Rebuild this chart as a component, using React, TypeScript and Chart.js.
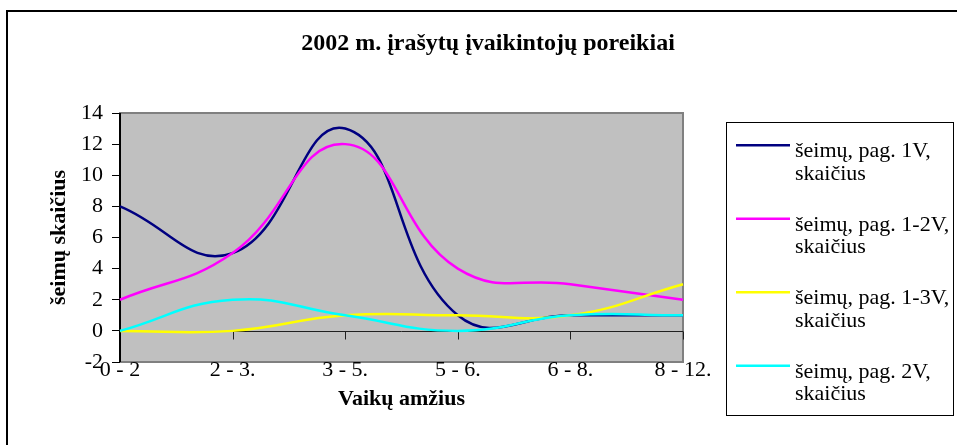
import React, { useEffect, useRef } from "react";
import { Chart, registerables } from "chart.js";

Chart.register(...registerables);

const chartTitle = "2002 m. įrašytų įvaikintojų poreikiai";
const xAxisTitle = "Vaikų amžius";
const yAxisTitle = "šeimų skaičius";
const ageGroups = ["0 - 2", "2 - 3.", "3 - 5.", "5 - 6.", "6 - 8.", "8 - 12."];
const seriesNames = [
  "šeimų, pag. 1V, skaičius",
  "šeimų, pag. 1-2V, skaičius",
  "šeimų, pag. 1-3V, skaičius",
  "šeimų, pag. 2V, skaičius",
];
const families1V = [8, 5, 13, 1, 1, 1];
const families12V = [2, 5, 12, 4, 3, 2];
const families13V = [0, 0, 1, 1, 1, 3];
const families2V = [0, 2, 1, 0, 1, 1];
const seriesColors = ["#000080", "#FF00FF", "#FFFF00", "#00FFFF"];
const yMin = -2;
const yMax = 14;
const yStep = 2;

const SERIF = "'Liberation Serif', 'Times New Roman', serif";

const excelDecor = {
  id: "excelDecor",
  beforeDraw(chart: any) {
    const { ctx, chartArea: a } = chart;
    ctx.save();
    ctx.fillStyle = "#ffffff";
    ctx.fillRect(0, 0, chart.width, chart.height);
    // outer frame
    ctx.strokeStyle = "#000000";
    ctx.lineWidth = 2;
    ctx.beginPath();
    ctx.moveTo(7, chart.height);
    ctx.lineTo(7, 11);
    ctx.lineTo(chart.width, 11);
    ctx.stroke();
    // plot background and frame
    ctx.fillStyle = "#C0C0C0";
    ctx.fillRect(a.left, a.top, a.right - a.left, a.bottom - a.top);
    ctx.strokeStyle = "#808080";
    ctx.lineWidth = 2;
    ctx.strokeRect(a.left, a.top, a.right - a.left, a.bottom - a.top);
    // title
    ctx.fillStyle = "#000000";
    ctx.font = `bold 24px ${SERIF}`;
    ctx.textAlign = "center";
    ctx.textBaseline = "alphabetic";
    ctx.fillText(chartTitle, 488, 50);
    // legend
    ctx.strokeStyle = "#000000";
    ctx.lineWidth = 1;
    ctx.strokeRect(726.5, 122.5, 227, 293);
    ctx.font = `22px ${SERIF}`;
    ctx.textAlign = "left";
    chart.data.datasets.forEach((ds: any, i: number) => {
      const base = 157.3 + i * 73.5;
      ctx.strokeStyle = ds.borderColor;
      ctx.lineWidth = 2.5;
      ctx.beginPath();
      ctx.moveTo(736, base - 12);
      ctx.lineTo(790, base - 12);
      ctx.stroke();
      const label: string = ds.label;
      const cut = label.lastIndexOf(" ");
      ctx.fillStyle = "#000000";
      ctx.fillText(label.slice(0, cut), 795, base);
      ctx.fillText(label.slice(cut + 1), 795, base + 22.5);
    });
    ctx.restore();
  },
  beforeDatasetsDraw(chart: any) {
    const { ctx, chartArea: a, scales } = chart;
    const x = scales.x;
    const y = scales.y;
    ctx.save();
    const y0 = Math.round(y.getPixelForValue(0)) + 0.5;
    ctx.strokeStyle = "#202020";
    ctx.lineWidth = 1;
    ctx.beginPath();
    ctx.moveTo(a.left, y0);
    ctx.lineTo(a.right, y0);
    ctx.stroke();
    chart.data.labels.forEach((_: any, i: number) => {
      const px = Math.round(x.getPixelForValue(i)) + 0.5;
      ctx.beginPath();
      ctx.moveTo(px, y0);
      ctx.lineTo(px, y0 + 8);
      ctx.stroke();
    });
    ctx.strokeStyle = "#000000";
    ctx.lineWidth = 2;
    ctx.beginPath();
    ctx.moveTo(a.left, a.top);
    ctx.lineTo(a.left, a.bottom);
    ctx.stroke();
    ctx.restore();
  },
};

export default function App() {
  const ref = useRef<HTMLCanvasElement>(null);
  useEffect(() => {
    const values = [families1V, families12V, families13V, families2V];
    const chart = new Chart(ref.current as HTMLCanvasElement, {
      type: "line",
      data: {
        labels: ageGroups,
        datasets: values.map((v, i) => ({
          label: seriesNames[i],
          data: v,
          borderColor: seriesColors[i],
          backgroundColor: seriesColors[i],
          borderWidth: 2.5,
          pointRadius: 0,
          tension: 0.45,
          fill: false,
          order: values.length - i,
        })),
      },
      options: {
        responsive: false,
        animation: false,
        devicePixelRatio: 1,
        layout: { padding: { left: 42, right: 274, top: 113, bottom: 28 } },
        plugins: {
          legend: { display: false },
          title: { display: false },
          tooltip: { enabled: false },
        },
        scales: {
          x: {
            type: "category",
            offset: false,
            grid: { display: false },
            border: { display: false },
            ticks: {
              color: "#000",
              autoSkip: false,
              maxRotation: 0,
              padding: -13,
              font: { family: SERIF, size: 22 },
            },
            title: {
              display: true,
              text: xAxisTitle,
              color: "#000",
              font: { family: SERIF, size: 22, weight: "bold" },
              padding: { top: 4, bottom: 4 },
            },
            afterFit(scale: any) {
              scale.height = 445 - 28 - 362;
            },
          },
          y: {
            min: yMin,
            max: yMax,
            ticks: {
              stepSize: yStep,
              color: "#000",
              padding: 9,
              font: { family: SERIF, size: 22 },
            },
            grid: {
              drawOnChartArea: false,
              drawTicks: true,
              tickLength: 8,
              color: "#000",
            },
            border: { display: false },
            title: {
              display: true,
              text: yAxisTitle,
              color: "#000",
              font: { family: SERIF, size: 22, weight: "bold" },
              padding: { top: 4, bottom: 4 },
            },
            afterFit(scale: any) {
              scale.width = 78;
            },
          },
        },
      },
      plugins: [excelDecor],
    } as any);
    return () => chart.destroy();
  }, []);
  return (
    <div style={{ position: "absolute", left: 0, top: 0, width: 957, height: 445, background: "#fff" }}>
      <canvas ref={ref} width={957} height={445} style={{ display: "block" }} />
    </div>
  );
}
